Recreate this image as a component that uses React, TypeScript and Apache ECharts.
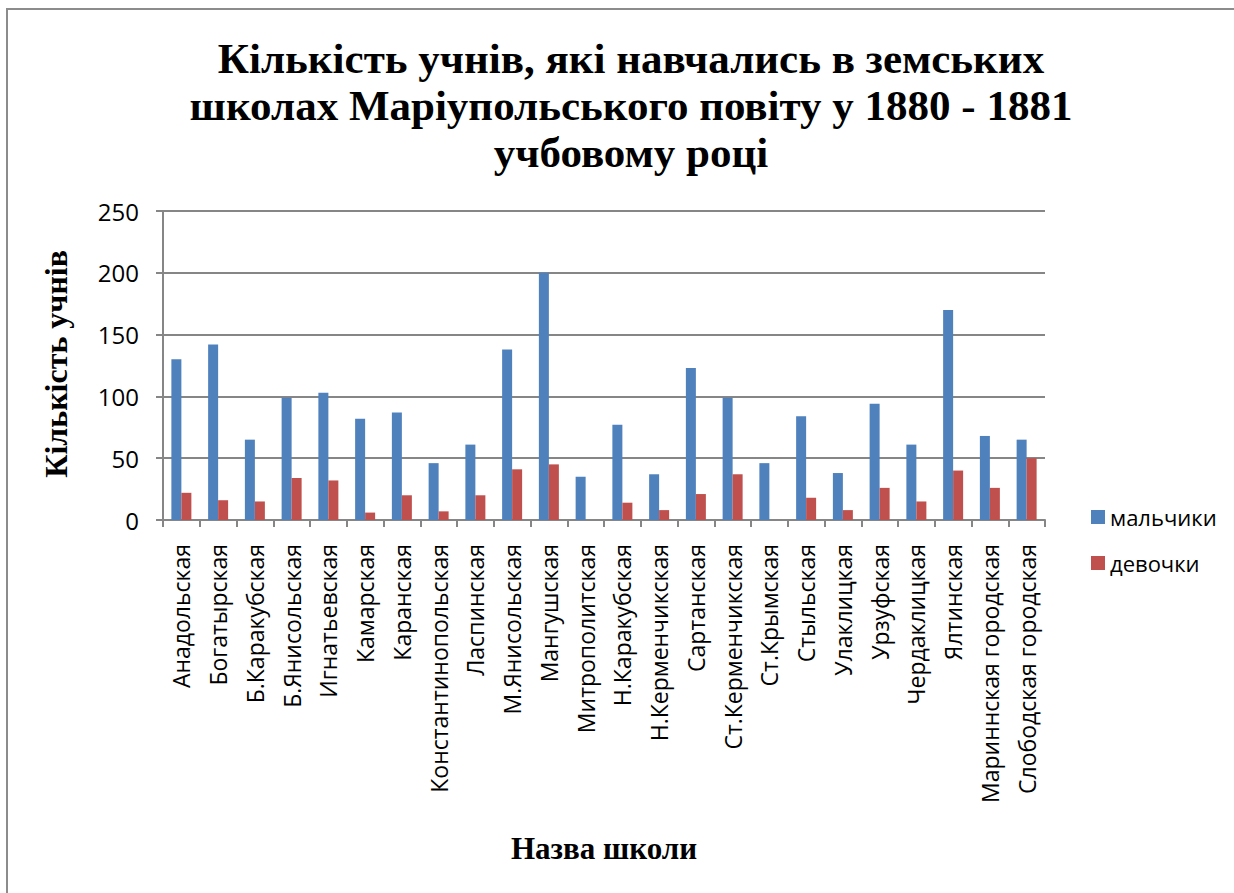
import React, { useEffect, useRef } from "react";
import * as echarts from "echarts";

const categories = [
  "Анадольская", "Богатырская", "Б.Каракубская", "Б.Янисольская", "Игнатьевская",
  "Камарская", "Каранская", "Константинопольская", "Ласпинская", "М.Янисольская",
  "Мангушская", "Митрополитская", "Н.Каракубская", "Н.Керменчикская", "Сартанская",
  "Ст.Керменчикская", "Ст.Крымская", "Стыльская", "Улаклицкая", "Урзуфская",
  "Чердаклицкая", "Ялтинская", "Мариннская городская", "Слободская городская",
];
const boys = [130, 142, 65, 99, 103, 82, 87, 46, 61, 138, 200, 35, 77, 37, 123, 99, 46, 84, 38, 94, 61, 170, 68, 65];
const girls = [22, 16, 15, 34, 32, 6, 20, 7, 20, 41, 45, 0, 14, 8, 21, 37, 0, 18, 8, 26, 15, 40, 26, 50];
const yTicks = [0, 50, 100, 150, 200, 250];

const titleText = "Кількість учнів, які навчались в земських\nшколах Маріупольського повіту у 1880 - 1881\nучбовому році";
const yName = "Кількість учнів";
const xName = "Назва школи";
const seriesNames = ["мальчики", "девочки"];

export default function App() {
  const ref = useRef<HTMLDivElement>(null);
  useEffect(() => {
    if (!ref.current) return;
    const chart = echarts.init(ref.current, undefined, { renderer: "svg" });
    const sans = "'Open Sans', 'Noto Sans', sans-serif";
    const serif = "'Liberation Serif', 'DejaVu Serif', serif";
    chart.setOption({
      animation: false,
      backgroundColor: "#fff",
      title: {
        text: titleText,
        left: 626,
        textAlign: "center",
        top: 30,
        textStyle: {
          fontFamily: serif,
          fontWeight: "bold",
          fontSize: 43,
          lineHeight: 47,
          color: "#000",
        },
      },
      legend: {
        orient: "vertical",
        left: 1086,
        top: 501,
        itemWidth: 14,
        itemHeight: 14,
        itemGap: 24,
        icon: "rect",
        textStyle: { fontFamily: sans, fontSize: 22, color: "#000" },
        data: seriesNames,
      },
      graphic: [
        {
          type: "rect",
          shape: { x: 7, y: 9, width: 1240, height: 900 },
          style: { fill: "none", stroke: "#8c8c8c", lineWidth: 2 },
          silent: true,
        },
        {
          type: "text",
          left: 40,
          top: 250,
          rotation: Math.PI / 2,
          style: {
            text: yName,
            fontFamily: serif,
            fontWeight: "bold",
            fontSize: 32,
            fill: "#000",
          },
          z: 10,
        },
      ],
      grid: { left: 163, right: 189, top: 211, bottom: 373, containLabel: false },
      xAxis: {
        type: "category",
        data: categories,
        name: xName,
        nameLocation: "middle",
        nameGap: 313,
        nameTextStyle: {
          fontFamily: serif,
          fontWeight: "bold",
          fontSize: 31,
          color: "#000",
        },
        axisLine: { lineStyle: { color: "#868686", width: 2 } },
        axisTick: { show: true, length: 7, lineStyle: { color: "#868686", width: 2 } },
        axisLabel: {
          rotate: 90,
          interval: 0,
          margin: 24,
          fontFamily: sans,
          fontSize: 23,
          color: "#000",
        },
      },
      yAxis: {
        type: "value",
        min: 0,
        max: 250,
        interval: 50,
        axisLine: { show: true, lineStyle: { color: "#868686", width: 2 } },
        axisTick: { show: true, length: 7, lineStyle: { color: "#868686", width: 2 } },
        splitLine: { lineStyle: { color: "#868686", width: 2 } },
        axisLabel: {
          margin: 24,
          fontFamily: sans,
          fontSize: 24,
          color: "#000",
          customValues: yTicks,
        },
      },
      series: [
        {
          name: seriesNames[0],
          type: "bar",
          data: boys,
          barWidth: 10,
          barGap: "0%",
          itemStyle: { color: "#4F81BD" },
        },
        {
          name: seriesNames[1],
          type: "bar",
          data: girls,
          barWidth: 10,
          barGap: "0%",
          itemStyle: { color: "#C0504D" },
        },
      ],
    });
    return () => chart.dispose();
  }, []);
  return (
    <div
      ref={ref}
      style={{ position: "absolute", left: 0, top: 0, width: 1234, height: 893 }}
    />
  );
}
